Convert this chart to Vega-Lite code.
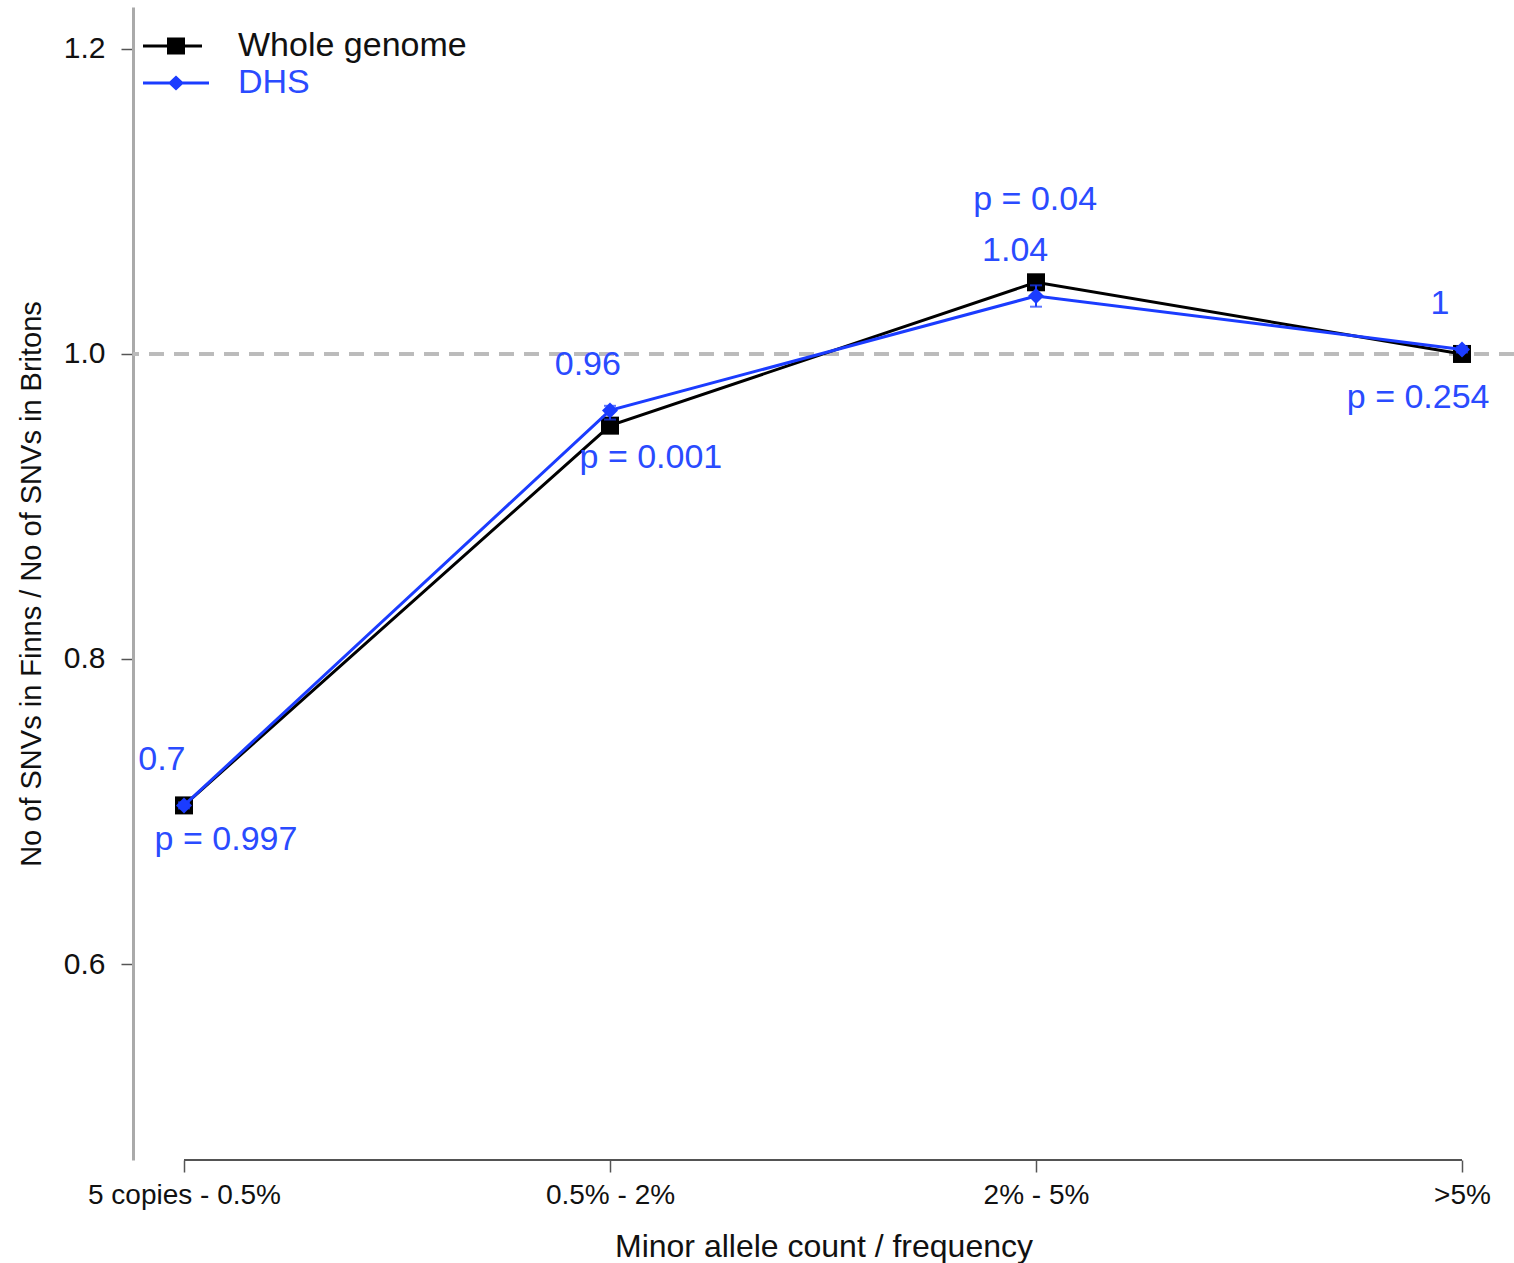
{
  "$schema": "https://vega.github.io/schema/vega-lite/v6.json",
  "width": 1381,
  "height": 1153,
  "autosize": {"type": "none"},
  "padding": {"left": 133, "top": 7, "right": 0, "bottom": 103},
  "background": "white",
  "config": {
    "view": {"stroke": null},
    "font": "Liberation Sans",
    "axis": {"labelFont": "Liberation Sans", "titleFont": "Liberation Sans", "titleFontWeight": "normal", "labelColor": "#111", "titleColor": "#111", "grid": false, "labelLimit": 0}
  },
  "datasets": {
    "ratios": [
      {"cat": 1, "series": "Whole genome", "ratio": 0.704, "lo": 0.702, "hi": 0.706},
      {"cat": 2, "series": "Whole genome", "ratio": 0.953, "lo": 0.951, "hi": 0.955},
      {"cat": 3, "series": "Whole genome", "ratio": 1.047, "lo": 1.045, "hi": 1.049},
      {"cat": 4, "series": "Whole genome", "ratio": 1.0, "lo": 0.999, "hi": 1.001},
      {"cat": 1, "series": "DHS", "ratio": 0.704, "lo": 0.702, "hi": 0.706},
      {"cat": 2, "series": "DHS", "ratio": 0.963, "lo": 0.957, "hi": 0.966},
      {"cat": 3, "series": "DHS", "ratio": 1.038, "lo": 1.031, "hi": 1.045},
      {"cat": 4, "series": "DHS", "ratio": 1.003, "lo": 1.001, "hi": 1.005}
    ],
    "notes": [
      {"nx": 0.948, "ny": 0.7338, "label": "0.7"},
      {"nx": 1.0986, "ny": 0.6813, "label": "p = 0.997"},
      {"nx": 1.948, "ny": 0.9928, "label": "0.96"},
      {"nx": 2.096, "ny": 0.9318, "label": "p = 0.001"},
      {"nx": 2.951, "ny": 1.0675, "label": "1.04"},
      {"nx": 2.998, "ny": 1.101, "label": "p = 0.04"},
      {"nx": 3.948, "ny": 1.0328, "label": "1"},
      {"nx": 3.897, "ny": 0.9711, "label": "p = 0.254"}
    ]
  },
  "data": {"name": "ratios"},
  "encoding": {
    "x": {
      "field": "cat", "type": "quantitative",
      "scale": {"domain": [0.8803, 4.122], "nice": false, "zero": false},
      "axis": {
        "values": [1, 2, 3, 4],
        "labelExpr": "['5 copies - 0.5%', '0.5% - 2%', '2% - 5%', '>5%'][datum.value - 1]",
        "domain": false, "tickSize": 12, "tickColor": "#555", "tickWidth": 1.5,
        "labelFontSize": 28, "labelPadding": 9, "labelFlush": false,
        "title": "Minor allele count / frequency", "titleFontSize": 32, "titlePadding": 22
      }
    },
    "y": {
      "field": "ratio", "type": "quantitative",
      "scale": {"domain": [0.4715, 1.2275], "nice": false, "zero": false},
      "axis": {
        "values": [0.6, 0.8, 1.0, 1.2], "format": ".1f",
        "domainColor": "#aaaaaa", "domainWidth": 3, "tickSize": 12, "tickColor": "#555", "tickWidth": 1.5,
        "labelFontSize": 30, "labelPadding": 16,
        "title": "No of SNVs in Finns / No of SNVs in Britons", "titleFontSize": 29, "titlePadding": 17
      }
    }
  },
  "layer": [
    {
      "mark": {"type": "rule", "color": "#bbbbbb", "strokeWidth": 3, "strokeDash": [15, 10]},
      "encoding": {"y": {"datum": 1.0}, "x": null}
    },
    {
      "mark": {"type": "rule", "color": "#555555", "strokeWidth": 1.5},
      "encoding": {"x": {"datum": 1}, "x2": {"datum": 4}, "y": {"datum": 0.4715}}
    },
    {
      "transform": [{"filter": "false"}],
      "mark": {"type": "point", "filled": true, "opacity": 1},
      "encoding": {
        "color": {
          "field": "series", "type": "nominal",
          "scale": {"domain": ["Whole genome", "DHS"], "range": ["#000000", "#1b3cff"]},
          "legend": {
            "orient": "none", "legendX": 26, "legendY": 22, "title": null,
            "labelFont": "Liberation Sans", "labelFontSize": 34, "labelOffset": 45, "labelLimit": 0,
            "labelColor": {"expr": "datum.value === 'DHS' ? '#2a4bff' : '#111111'"},
            "symbolSize": 100, "rowPadding": 3, "padding": 0, "symbolStrokeWidth": 0
          }
        },
        "shape": {
          "field": "series", "type": "nominal",
          "scale": {"domain": ["Whole genome", "DHS"], "range": ["M-6.6,-0.3H5.2V0.3H-6.6Z M-1.8,-1.7H1.8V1.7H-1.8Z", "M-6.6,-0.3H6.6V0.3H-6.6Z M0,-1.5L1.6,0L0,1.5L-1.6,0Z"]}
        }
      }
    },
    {
      "transform": [{"filter": "datum.series === 'Whole genome'"}],
      "mark": {"type": "line", "strokeWidth": 3, "color": "#000000"}
    },
    {
      "transform": [{"filter": "datum.series === 'Whole genome'"}],
      "mark": {"type": "point", "shape": "square", "filled": true, "size": 324, "color": "#000000", "opacity": 1}
    },
    {
      "transform": [{"filter": "datum.series === 'Whole genome'"}],
      "mark": {"type": "errorbar", "color": "#000000", "ticks": {"size": 12, "thickness": 2}, "thickness": 2},
      "encoding": {"y": {"field": "lo", "type": "quantitative"}, "y2": {"field": "hi"}}
    },
    {
      "transform": [{"filter": "datum.series === 'DHS'"}],
      "mark": {"type": "line", "strokeWidth": 3, "color": "#1b3cff"}
    },
    {
      "transform": [{"filter": "datum.series === 'DHS'"}],
      "mark": {"type": "errorbar", "color": "#1b3cff", "ticks": {"size": 12, "thickness": 2}, "thickness": 2},
      "encoding": {"y": {"field": "lo", "type": "quantitative"}, "y2": {"field": "hi"}}
    },
    {
      "transform": [{"filter": "datum.series === 'DHS'"}],
      "mark": {"type": "point", "shape": "diamond", "filled": true, "size": 256, "color": "#1b3cff", "opacity": 1}
    },
    {
      "data": {"name": "notes"},
      "mark": {"type": "text", "color": "#2a4bff", "fontSize": 34, "font": "Liberation Sans", "align": "center", "baseline": "middle"},
      "encoding": {
        "x": {"field": "nx", "type": "quantitative"},
        "y": {"field": "ny", "type": "quantitative"},
        "text": {"field": "label"}
      }
    }
  ]
}
